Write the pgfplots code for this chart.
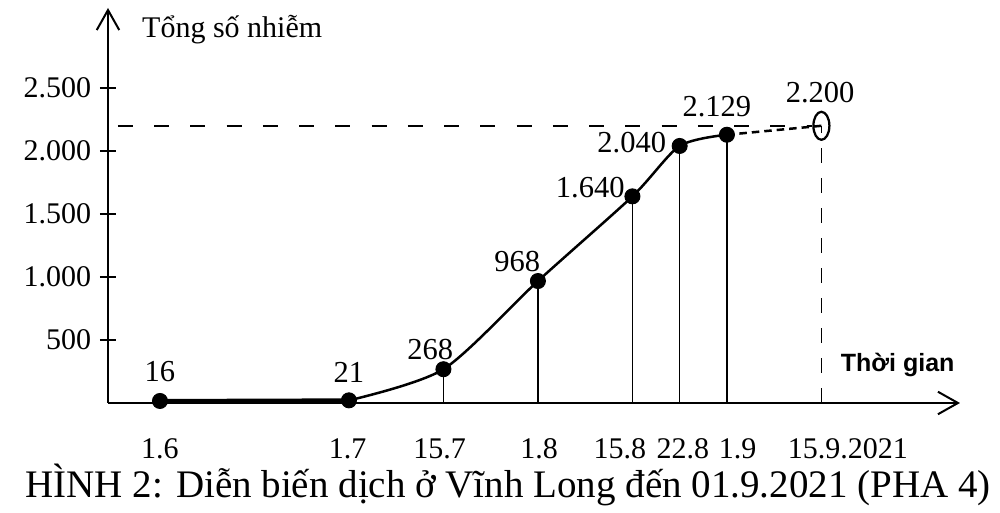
\documentclass[border=0pt]{standalone}
\usepackage{fontspec}
\setmainfont{Liberation Serif}
\newfontfamily\sansfont{Liberation Sans}
\usepackage{pgfplots}
\pgfplotsset{compat=1.18}
\usetikzlibrary{arrows.meta}

\newcommand{\lbl}{\fontsize{12.2pt}{14pt}\selectfont}

\begin{document}
\begin{tikzpicture}
% page = 1000 x 513 px, 1 px = 0.4pt, origin at the axis corner (108,403)
\useasboundingbox (-43.2pt,-44pt) rectangle (356.8pt,161.2pt);
\begin{axis}[
    at={(0,0)}, anchor=south west,
    scale only axis,
    width=340.8pt, height=158pt,
    xmin=-8.25, xmax=127, ymin=0, ymax=3135,
    clip=false,
    axis lines=left,
    axis line style={line width=0.8pt, -{Straight Barb[length=8pt,width=9pt,line width=0.8pt]}},
    ytick={500,1000,1500,2000,2500},
    tick align=center,
    major tick length=6.4pt,
    ytick style={line width=0.6pt, black},
    xtick={0,29.8,44.4,60.2,73,83,91.7,109.2},
    xticklabels={1.6,1.7,15.7,1.8,15.8,22.8,1.9,15.9.2021},
    xtick style={draw=none},
    tick label style={font=\fontsize{12pt}{14pt}\selectfont},
    xticklabel style={yshift=-7.5pt},
    /pgf/number format/1000 sep={.},
    /pgf/number format/assume math mode=true,
]
% drop lines
\addplot[ycomb, black, line width=0.5pt, mark=none] coordinates {
    (45,268) (60,968) (75,1640) (82.5,2040) (90,2129)};
\addplot[ycomb, black, line width=0.6pt, dash pattern=on 6pt off 6pt, mark=none] coordinates {(105,2200)};
% target level
\addplot[black, line width=0.7pt, dash pattern=on 6pt off 8.5pt, mark=none] coordinates {(-6.67,2200) (103.5,2200)};
% cumulative cases
\addplot[black, line width=1.6pt, mark=none] coordinates {(0,16) (30,21)};
\addplot[black, smooth, tension=0.45, line width=1pt, mark=none] coordinates {
    (30,21) (45,268) (60,968) (75,1640) (82.5,2040) (90,2129)};
\addplot[black, densely dashed, line width=1pt, mark=none] coordinates {(90,2129) (105,2200)};
\addplot[only marks, mark=*, mark size=3pt, black] coordinates {
    (0,16) (30,21) (45,268) (60,968) (75,1640) (82.5,2040) (90,2129)};
\addplot[only marks, mark=o, mark size=3.2pt, black,
    mark options={yscale=1.75, line width=0.9pt}] coordinates {(105,2200)};

\node[font=\lbl] at (axis cs:0,246) {16};
\node[font=\lbl] at (axis cs:30,246) {21};
\node[font=\lbl] at (axis cs:42.9,421) {268};
\node[font=\lbl] at (axis cs:56.7,1119) {968};
\node[font=\lbl] at (axis cs:68.3,1706) {1.640};
\node[font=\lbl] at (axis cs:74.9,2063) {2.040};
\node[font=\lbl] at (axis cs:88.4,2349) {2.129};
\node[font=\lbl] at (axis cs:104.8,2460) {2.200};
\node[anchor=west, font=\fontsize{12pt}{14pt}\selectfont, inner sep=0pt] at (axis cs:-2.9,2960) {Tổng số nhiễm};
\node[font=\sansfont\bfseries\fontsize{10pt}{12pt}\selectfont] at (axis cs:117.1,302) {Thời gian};
\end{axis}
\node[anchor=base west, inner sep=0pt, font=\fontsize{15.6pt}{18pt}\selectfont] at (-33.2pt,-38pt)
    {HÌNH 2: Diễn biến dịch ở Vĩnh Long đến 01.9.2021 (PHA 4)};
\end{tikzpicture}
\end{document}
